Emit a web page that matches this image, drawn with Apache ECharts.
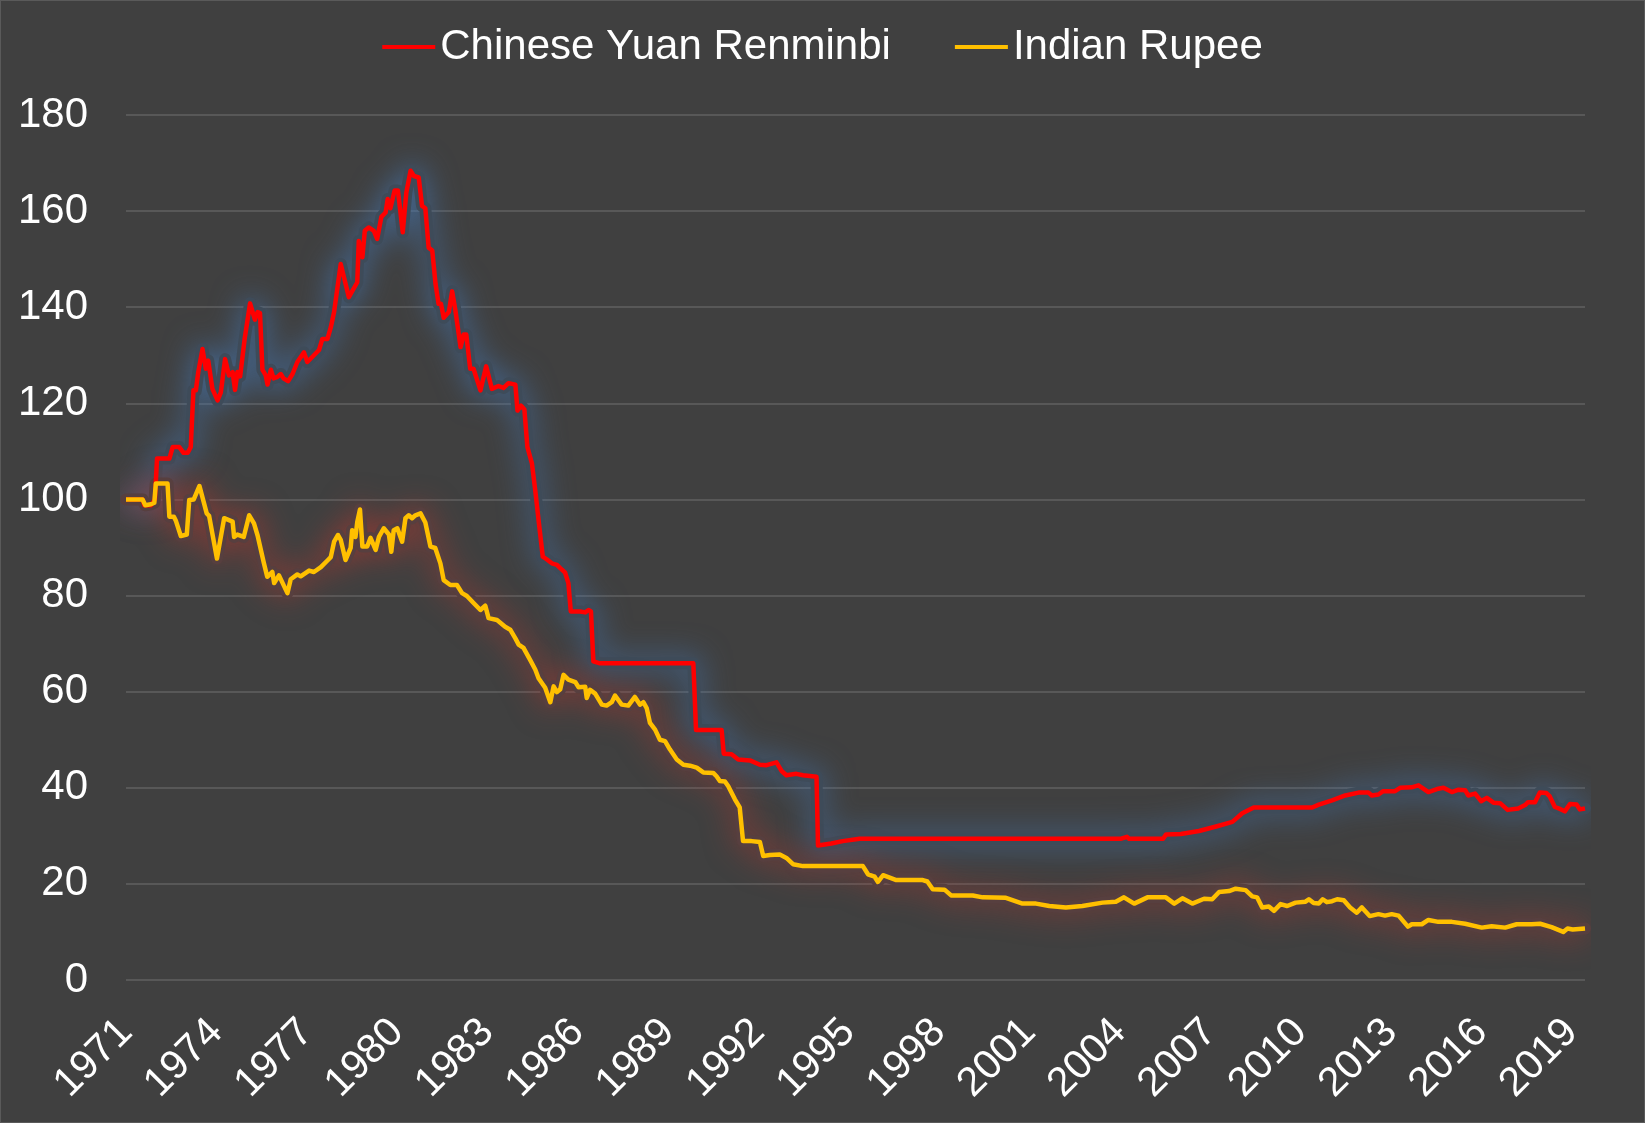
<!DOCTYPE html>
<html>
<head>
<meta charset="utf-8">
<title>CNY vs INR</title>
<script src="https://cdn.jsdelivr.net/npm/echarts@6/dist/echarts.min.js"></script>
<style>
  html, body { margin: 0; padding: 0; background: #404040; }
  #main { width: 1645px; height: 1123px; box-sizing: border-box; border: 1px solid #5a5a5a; }
</style>
</head>
<body>
<div id="main"></div>
<script>
// index, 1971 = 100 (decimal years)
var cnyYears = [1971.00,1971.55,1971.61,1971.83,1971.96,1972.03,1972.44,1972.55,1972.77,1972.91,1973.05,1973.15,1973.24,1973.32,1973.40,1973.54,1973.65,1973.73,1973.87,1974.04,1974.15,1974.29,1974.42,1974.54,1974.62,1974.70,1974.79,1974.94,1975.12,1975.28,1975.37,1975.45,1975.53,1975.64,1975.70,1975.81,1975.90,1976.03,1976.14,1976.23,1976.38,1976.53,1976.69,1976.91,1977.02,1977.24,1977.41,1977.52,1977.69,1977.80,1977.91,1978.13,1978.40,1978.68,1978.73,1978.85,1978.93,1979.06,1979.23,1979.34,1979.48,1979.62,1979.69,1979.78,1979.92,1980.03,1980.19,1980.31,1980.45,1980.56,1980.72,1980.83,1980.94,1981.05,1981.17,1981.28,1981.38,1981.46,1981.55,1981.72,1981.83,1981.94,1982.11,1982.21,1982.30,1982.43,1982.54,1982.77,1982.96,1983.15,1983.37,1983.54,1983.70,1983.93,1984.00,1984.12,1984.23,1984.33,1984.48,1984.59,1984.70,1984.84,1984.98,1985.14,1985.31,1985.42,1985.58,1985.69,1985.77,1986.08,1986.25,1986.36,1986.44,1986.52,1986.74,1989.84,1989.93,1990.78,1990.85,1991.11,1991.33,1991.72,1992.05,1992.27,1992.60,1992.77,1992.93,1993.26,1993.48,1993.93,1993.98,1994.42,1994.80,1995.36,2004.05,2004.24,2004.31,2005.44,2005.54,2006.03,2006.63,2007.23,2007.74,2008.07,2008.45,2010.39,2010.61,2011.05,2011.49,2011.93,2012.26,2012.37,2012.59,2012.75,2013.14,2013.31,2013.69,2013.92,2014.25,2014.58,2014.75,2015.03,2015.25,2015.47,2015.57,2015.80,2016.00,2016.19,2016.41,2016.63,2016.88,2017.23,2017.46,2017.56,2017.79,2017.95,2018.17,2018.28,2018.45,2018.62,2018.78,2018.95,2019.17,2019.28,2019.45];
var cnyValues = [100,100,98.8,98.8,100,108.5,108.5,110.9,110.9,109.7,109.7,110.9,122.7,122.7,126.5,131.3,127.2,128.9,123.0,120.6,122.3,129.2,125.8,126.5,122.8,126.5,125.6,133.4,140.8,137.4,139.0,138.8,127.0,125.8,123.9,127.0,125.2,125.5,126.1,125.2,124.6,126.1,128.6,130.6,128.6,130.0,131.1,133.4,133.4,135.8,139.0,149.0,142.1,145.2,153.8,150.4,155.9,156.6,155.9,154.2,158.8,159.7,162.5,160.6,164.3,164.3,155.6,163.9,168.4,167.3,167.0,161.1,160.6,152.4,151.8,144.8,140.7,140.7,137.8,139.0,143.3,139.3,131.7,134.3,134.3,127.2,127.2,122.7,127.7,123.0,123.6,123.2,124.2,123.9,118.5,119.5,118.7,110.9,107.5,101.9,95.7,88.1,87.5,86.7,86.4,85.7,84.8,82.6,76.7,76.7,76.5,77.0,76.7,66.3,65.9,65.9,52.0,52.0,47.1,47.0,45.9,45.7,44.8,44.7,45.3,43.5,42.6,42.9,42.6,42.3,28.0,28.4,28.9,29.4,29.4,29.8,29.4,29.4,30.3,30.4,31.0,32.0,32.9,34.7,35.9,35.9,36.5,37.4,38.4,39.0,39.0,38.4,38.6,39.3,39.3,40.0,40.1,40.5,39.1,39.8,40.0,39.1,39.6,39.5,38.4,38.8,37.2,37.9,36.9,36.8,35.4,35.7,36.4,37.0,37.0,39.0,38.9,38.2,36.0,35.6,35.1,36.6,36.5,35.5,35.7];

var inrYears = [1971.00,1971.55,1971.64,1971.83,1971.94,1971.99,1972.38,1972.44,1972.59,1972.66,1972.82,1973.02,1973.10,1973.25,1973.44,1973.68,1973.76,1974.02,1974.26,1974.54,1974.59,1974.70,1974.91,1975.09,1975.25,1975.37,1975.58,1975.69,1975.86,1975.92,1976.08,1976.36,1976.47,1976.69,1976.80,1977.08,1977.24,1977.47,1977.69,1977.80,1977.91,1978.04,1978.13,1978.29,1978.46,1978.51,1978.62,1978.68,1978.77,1978.85,1979.01,1979.12,1979.29,1979.40,1979.56,1979.73,1979.81,1979.89,1980.01,1980.17,1980.28,1980.39,1980.50,1980.61,1980.78,1980.94,1981.11,1981.27,1981.44,1981.55,1981.77,1981.99,1982.16,1982.32,1982.55,1982.77,1982.93,1983.04,1983.32,1983.59,1983.76,1983.93,1984.04,1984.20,1984.42,1984.59,1984.70,1984.92,1985.09,1985.20,1985.31,1985.42,1985.53,1985.69,1985.92,1986.03,1986.25,1986.30,1986.41,1986.58,1986.80,1986.96,1987.13,1987.24,1987.46,1987.68,1987.90,1988.07,1988.18,1988.29,1988.40,1988.57,1988.73,1988.90,1989.06,1989.29,1989.51,1989.73,1989.95,1990.17,1990.50,1990.61,1990.72,1990.89,1991.00,1991.22,1991.38,1991.49,1991.77,1992.05,1992.16,1992.38,1992.71,1992.93,1993.15,1993.48,1995.47,1995.64,1995.86,1995.97,1996.14,1996.58,1997.46,1997.61,1997.79,1998.18,1998.40,1999.12,1999.45,2000.22,2000.77,2001.22,2001.66,2002.21,2002.76,2003.43,2003.87,2004.14,2004.48,2004.92,2005.53,2005.81,2006.08,2006.41,2006.80,2007.07,2007.30,2007.63,2007.85,2008.18,2008.40,2008.56,2008.73,2008.95,2009.12,2009.34,2009.56,2009.84,2010.17,2010.28,2010.44,2010.61,2010.74,2010.88,2011.05,2011.22,2011.44,2011.65,2011.87,2012.04,2012.30,2012.59,2012.81,2013.03,2013.26,2013.57,2013.70,2014.03,2014.25,2014.58,2015.03,2015.47,2016.02,2016.35,2016.80,2017.18,2017.68,2017.96,2018.34,2018.73,2018.87,2019.04,2019.45];
var inrValues = [100,100,98.8,99.0,99.3,103.3,103.3,96.4,96.4,95.5,92.4,92.7,99.9,100.0,102.8,97.1,96.6,87.7,96.1,95.4,92.2,92.7,92.2,96.7,95.0,92.5,86.7,83.9,84.9,82.6,84.2,80.5,83.4,84.4,84.0,85.2,84.9,85.9,87.3,88.0,91.2,92.6,91.6,87.4,89.9,93.6,92.2,95.3,97.9,90.2,90.2,92.0,89.5,92.2,94.0,92.7,89.1,93.6,94.0,91.2,96.1,96.7,96.1,96.7,97.1,95.2,90.2,89.9,86.7,83.2,82.2,82.2,80.5,79.9,78.4,77.0,77.9,75.3,74.9,73.5,72.9,71.1,69.8,69.1,66.6,64.6,62.8,60.8,57.8,61.1,59.9,60.5,63.5,62.5,62.0,60.9,61.0,58.7,60.4,59.6,57.3,57.1,57.8,59.2,57.3,57.1,58.9,57.3,57.8,56.6,53.5,52.1,50.0,49.7,48.0,45.9,44.8,44.6,44.2,43.2,43.1,42.4,41.4,41.3,40.3,37.6,35.9,28.9,28.9,28.7,25.8,26.0,26.1,25.4,24.1,23.7,23.7,22.0,21.5,20.4,21.8,20.8,20.8,20.5,18.9,18.8,17.6,17.6,17.2,17.1,15.9,15.9,15.4,15.1,15.4,16.1,16.3,17.2,15.9,17.2,17.2,15.9,17.0,15.9,16.9,16.8,18.3,18.5,19.0,18.7,17.4,17.2,15.1,15.3,14.4,15.8,15.4,16.1,16.3,16.8,16.0,15.9,16.8,16.2,16.4,16.8,16.6,15.1,14.0,15.1,13.3,13.7,13.4,13.7,13.4,11.1,11.6,11.6,12.5,12.1,12.1,11.7,10.9,11.2,10.9,11.6,11.6,11.7,11.0,10.0,10.7,10.5,10.7];

var seriesNames = ['Chinese Yuan Renminbi', 'Indian Rupee'];
var lineColors = ['#ff0000', '#ffc000'];
var haloColors = ['#3e4b59', '#573f3f'];
var glowColors = ['rgba(70,120,180,0.75)', 'rgba(190,55,45,0.6)'];

function pairs(xs, ys) {
    return xs.map(function (x, i) { return [x, ys[i]]; });
}

// soft halo drawn under each line (Excel "glow" effect)
function glow(idx, data) {
    return {
        type: 'line',
        symbol: 'none',
        silent: true,
        z: 1,
        lineStyle: {
            width: 12,
            color: haloColors[idx],
            shadowBlur: 30,
            shadowColor: glowColors[idx],
            cap: 'round',
            join: 'round'
        },
        data: data
    };
}

function mainLine(idx, data) {
    return {
        name: seriesNames[idx],
        type: 'line',
        symbol: 'none',
        z: 3,
        color: lineColors[idx],
        lineStyle: {
            width: 4.5,
            color: lineColors[idx],
            join: 'round'
        },
        data: data
    };
}

var cnyData = pairs(cnyYears, cnyValues);
var inrData = pairs(inrYears, inrValues);

var myChart = echarts.init(document.getElementById('main'));
var font = 'Liberation Sans, Arial, sans-serif';

option = {
    backgroundColor: '#404040',
    animation: false,
    textStyle: { fontFamily: font, color: '#ffffff' },
    legend: {
        top: 20,
        left: 'center',
        itemWidth: 53,
        itemHeight: 4,
        itemGap: 64,
        icon: 'rect',
        textStyle: { color: '#ffffff', fontSize: 42, fontFamily: font },
        data: seriesNames
    },
    grid: {
        left: 125,
        right: 59,
        top: 114,
        bottom: 142
    },
    xAxis: {
        type: 'value',
        min: 1971,
        max: 2019.45,
        interval: 3,
        axisLine: { show: false },
        axisTick: { show: false },
        splitLine: { show: false },
        axisLabel: {
            rotate: 45,
            margin: 46,
            color: '#ffffff',
            fontSize: 41,
            fontFamily: font,
            showMaxLabel: false,
            formatter: function (v) { return Math.abs(v - Math.round(v)) < 1e-6 ? String(Math.round(v)) : ''; }
        }
    },
    yAxis: {
        type: 'value',
        min: 0,
        max: 180,
        interval: 20,
        axisLine: { show: false },
        axisTick: { show: false },
        splitLine: { lineStyle: { color: '#585858', width: 2 } },
        axisLabel: { color: '#ffffff', fontSize: 42, fontFamily: font, margin: 38 }
    },
    series: [
        glow(0, cnyData),
        glow(1, inrData),
        mainLine(0, cnyData),
        mainLine(1, inrData)
    ]
};

myChart.setOption(option);
</script>
</body>
</html>
